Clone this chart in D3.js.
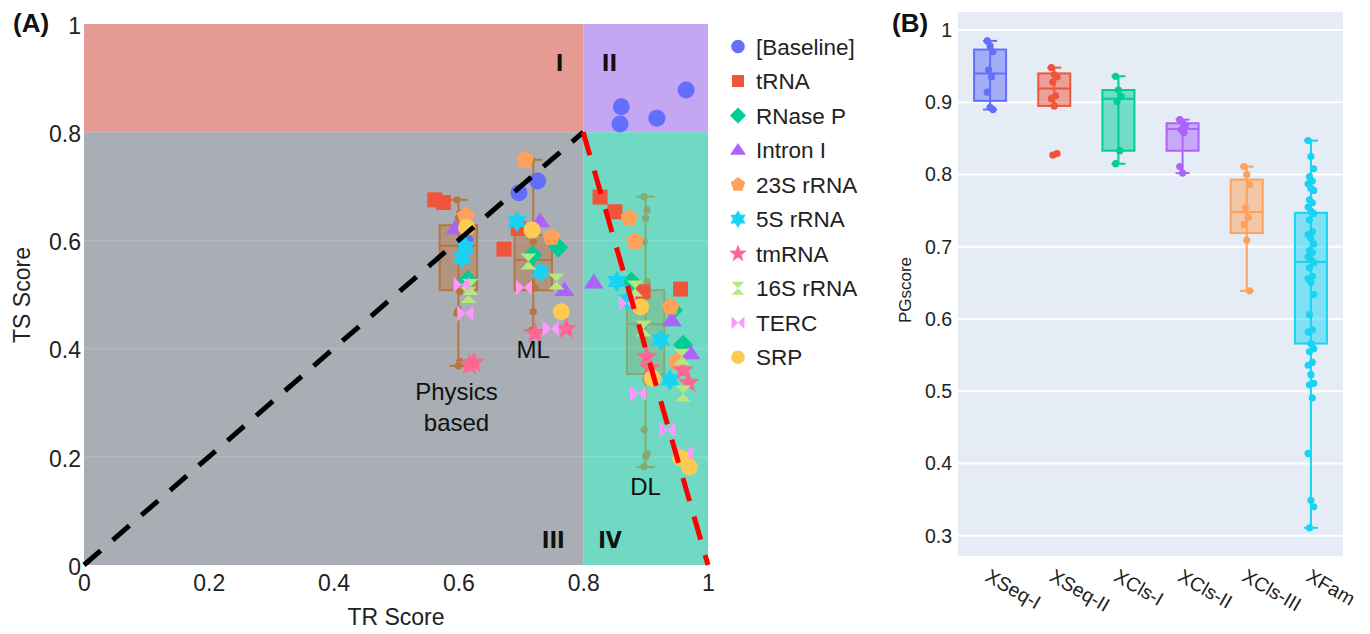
<!DOCTYPE html>
<html>
<head>
<meta charset="utf-8">
<script src="https://d3js.org/d3.v7.min.js"></script>
<style>
  body { margin: 0; background: #fff; }
  svg { font-family: "Liberation Sans", Arial, sans-serif; }
</style>
</head>
<body>
<script>
// ---------- panel A data ----------
const families = ["[Baseline]", "tRNA", "RNase P", "Intron I", "23S rRNA", "5S rRNA", "tmRNA", "16S rRNA", "TERC", "SRP"];
const famColors = ["#636efa", "#ef553b", "#00cc96", "#ab63fa", "#ffa15a", "#19d3f3", "#ff6692", "#b6e880", "#ff97ff", "#fecb52"];
const famShapes = ["circle", "square", "diamond", "triangle", "pentagon", "hexagram", "star", "hourglass", "bowtie", "circle"];

// [TR score, TS score]
const ptsBaseline = [[0.861, 0.847], [0.859, 0.815], [0.918, 0.826], [0.965, 0.878], [0.697, 0.688], [0.727, 0.710], [0.611, 0.598]];
const ptsTRNA = [[0.562, 0.675], [0.576, 0.670], [0.696, 0.622], [0.673, 0.584], [0.827, 0.680], [0.851, 0.653], [0.896, 0.505], [0.956, 0.510]];
const ptsRNaseP = [[0.615, 0.527], [0.760, 0.587], [0.719, 0.573], [0.877, 0.524], [0.944, 0.471], [0.960, 0.407]];
const ptsIntron = [[0.595, 0.622], [0.731, 0.635], [0.770, 0.508], [0.817, 0.522], [0.942, 0.452], [0.972, 0.391]];
const pts23S = [[0.612, 0.645], [0.707, 0.749], [0.749, 0.606], [0.874, 0.641], [0.883, 0.598], [0.940, 0.477], [0.950, 0.376]];
const pts5S = [[0.611, 0.588], [0.606, 0.567], [0.694, 0.635], [0.731, 0.542], [0.854, 0.524], [0.871, 0.490], [0.924, 0.416], [0.939, 0.342]];
const ptsTmRNA = [[0.625, 0.374], [0.618, 0.370], [0.723, 0.428], [0.773, 0.437], [0.902, 0.385], [0.907, 0.364], [0.960, 0.360], [0.969, 0.337]];
const pts16S = [[0.619, 0.514], [0.616, 0.499], [0.712, 0.561], [0.757, 0.524], [0.883, 0.511], [0.897, 0.437], [0.958, 0.385], [0.960, 0.317]];
const ptsTERC = [[0.605, 0.518], [0.611, 0.465], [0.705, 0.513], [0.748, 0.437], [0.870, 0.484], [0.888, 0.317], [0.935, 0.250], [0.963, 0.206]];
const ptsSRP = [[0.613, 0.624], [0.718, 0.619], [0.765, 0.468], [0.892, 0.477], [0.911, 0.345], [0.956, 0.198], [0.970, 0.181]];
const famPoints = [ptsBaseline, ptsTRNA, ptsRNaseP, ptsIntron, pts23S, pts5S, ptsTmRNA, pts16S, ptsTERC, ptsSRP];

// method boxes in panel A: x position, [low, q1, median, q3, high], member dots
const methodNames = ["Physics based", "ML", "DL"];
const methodX = [0.60, 0.72, 0.90];
const methodStats = [
  [0.368, 0.508, 0.590, 0.628, 0.675],
  [0.434, 0.508, 0.564, 0.610, 0.749],
  [0.181, 0.353, 0.445, 0.508, 0.681]
];
const methodDots = [
  [0.675, 0.651, 0.641, 0.518, 0.505, 0.471, 0.465, 0.376, 0.368],
  [0.749, 0.616, 0.598, 0.521, 0.512, 0.468, 0.434],
  [0.681, 0.656, 0.641, 0.598, 0.524, 0.342, 0.250, 0.206, 0.200, 0.182]
];
const ticksA = [0, 0.2, 0.4, 0.6, 0.8, 1];

// ---------- panel B data ----------
const splits = ["XSeq-I", "XSeq-II", "XCls-I", "XCls-II", "XCls-III", "XFam"];
const splitColors = ["#636efa", "#ef553b", "#00cc96", "#ab63fa", "#ffa15a", "#19d3f3"];
const splitStats = [
  [0.890, 0.902, 0.940, 0.973, 0.985],
  [0.895, 0.895, 0.919, 0.940, 0.948],
  [0.815, 0.833, 0.905, 0.917, 0.936],
  [0.802, 0.833, 0.863, 0.871, 0.876],
  [0.639, 0.719, 0.748, 0.793, 0.811],
  [0.311, 0.566, 0.679, 0.747, 0.847]
];
const splitPoints = [
  [0.985, 0.978, 0.970, 0.945, 0.935, 0.914, 0.893, 0.890],
  [0.948, 0.938, 0.935, 0.928, 0.909, 0.905, 0.895, 0.829, 0.827],
  [0.936, 0.917, 0.908, 0.901, 0.833, 0.815],
  [0.876, 0.872, 0.868, 0.862, 0.858, 0.811, 0.802],
  [0.811, 0.800, 0.786, 0.754, 0.741, 0.731, 0.709, 0.639],
  [0.847, 0.825, 0.808, 0.797, 0.791, 0.787, 0.781, 0.778, 0.765, 0.761, 0.755, 0.749, 0.746,
   0.737, 0.721, 0.717, 0.712, 0.704, 0.695, 0.692, 0.686, 0.682, 0.678, 0.671, 0.659, 0.656,
   0.651, 0.634, 0.606, 0.585, 0.582, 0.566, 0.559, 0.555, 0.540, 0.536, 0.523, 0.511, 0.509,
   0.491, 0.414, 0.349, 0.340, 0.311]
];
const ticksB = [0.3, 0.4, 0.5, 0.6, 0.7, 0.8, 0.9, 1];

// ---------- svg ----------
const svg = d3.select("body").append("svg").attr("width", 1370).attr("height", 634);

function shapePath(shape, r) {
  const poly = (n, r1, r2, rot) => {
    const p = [];
    for (let i = 0; i < n * 2; i++) {
      const rr = i % 2 === 0 ? r1 : r2;
      const a = rot + i * Math.PI / n;
      p.push([rr * Math.sin(a), -rr * Math.cos(a)]);
    }
    return "M" + p.map(q => q[0].toFixed(2) + "," + q[1].toFixed(2)).join("L") + "Z";
  };
  switch (shape) {
    case "circle": return d3.symbol(d3.symbolCircle, Math.PI * r * r)();
    case "square": return `M${-r},${-r}H${r}V${r}H${-r}Z`;
    case "diamond": return `M0,${-r * 1.25}L${r * 1.25},0L0,${r * 1.25}L${-r * 1.25},0Z`;
    case "triangle": return `M0,${-r}L${r * 1.1},${r * 0.65}L${-r * 1.1},${r * 0.65}Z`;
    case "pentagon": return poly(5, r * 1.05, r * 1.05 * Math.cos(Math.PI / 5), 0);
    case "hexagram": return poly(6, r * 1.3, r * 0.75, 0);
    case "star": return poly(5, r * 1.45, r * 0.6, 0);
    case "hourglass": return `M${-r},${-r}H${r}L${-r},${r}H${r}Z`;
    case "bowtie": return `M${-r},${-r}V${r}L${r},${-r}V${r}Z`;
  }
}

// ================= PANEL A =================
const xA = d3.scaleLinear().domain([0, 1]).range([84, 708]);
const yA = d3.scaleLinear().domain([0, 1]).range([565, 24]);
const gA = svg.append("g");

const quads = [
  { x0: 0, x1: 0.8, y0: 0.8, y1: 1, c: "#e69a94" },
  { x0: 0.8, x1: 1, y0: 0.8, y1: 1, c: "#c4a6f3" },
  { x0: 0, x1: 0.8, y0: 0, y1: 0.8, c: "#a9adb4" },
  { x0: 0.8, x1: 1, y0: 0, y1: 0.8, c: "#6fd9c3" }
];
gA.selectAll("rect.quad").data(quads).enter().append("rect")
  .attr("x", d => xA(d.x0)).attr("y", d => yA(d.y1))
  .attr("width", d => xA(d.x1) - xA(d.x0)).attr("height", d => yA(d.y0) - yA(d.y1))
  .attr("fill", d => d.c);

gA.selectAll("line.grid").data([0.2, 0.4, 0.6]).enter().append("line")
  .attr("x1", xA(0)).attr("x2", xA(1)).attr("y1", d => yA(d)).attr("y2", d => yA(d))
  .attr("stroke", "#fff").attr("stroke-opacity", 0.15).attr("stroke-width", 1.5);

// quadrant labels
const quadLabels = [["I", 0.762, 0.913], ["II", 0.842, 0.913], ["III", 0.752, 0.031], ["IV", 0.843, 0.031]];
gA.selectAll("text.ql").data(quadLabels).enter().append("text")
  .attr("x", d => xA(d[1])).attr("y", d => yA(d[2]))
  .attr("text-anchor", "middle").attr("font-size", 23).attr("font-weight", "bold")
  .attr("font-family", "'DejaVu Sans Condensed', 'Liberation Sans', sans-serif")
  .attr("fill", "#111").text(d => d[0]);

// method boxes
const boxW = 0.06;
const boxStroke = ["#b8763f", "#b8763f", "#86aa70"];
const boxFill = ["rgba(184,118,63,0.45)", "rgba(184,118,63,0.45)", "rgba(134,170,112,0.4)"];
methodStats.forEach((s, i) => {
  const cx = xA(methodX[i]);
  const w = xA(boxW) - xA(0);
  const g = gA.append("g");
  g.append("line").attr("x1", cx).attr("x2", cx).attr("y1", yA(s[0])).attr("y2", yA(s[4]))
    .attr("stroke", boxStroke[i]).attr("stroke-width", 2);
  [s[0], s[4]].forEach(v => g.append("line").attr("x1", cx - 9).attr("x2", cx + 9)
    .attr("y1", yA(v)).attr("y2", yA(v)).attr("stroke", boxStroke[i]).attr("stroke-width", 2));
  g.append("rect").attr("x", cx - w / 2).attr("y", yA(s[3])).attr("width", w)
    .attr("height", yA(s[1]) - yA(s[3])).attr("fill", boxFill[i])
    .attr("stroke", boxStroke[i]).attr("stroke-width", 2);
  g.append("line").attr("x1", cx - w / 2).attr("x2", cx + w / 2).attr("y1", yA(s[2])).attr("y2", yA(s[2]))
    .attr("stroke", boxStroke[i]).attr("stroke-width", 2);
  g.selectAll("circle").data(methodDots[i]).enter().append("circle")
    .attr("cx", (d, j) => cx + ((j * 5) % 3 - 1) * 1.5).attr("cy", d => yA(d))
    .attr("r", 3.6).attr("fill", boxStroke[i]);
});

// family markers
const markerR = { circle: 8.5, square: 7.5, diamond: 8, triangle: 9, pentagon: 9, hexagram: 8.5, star: 8, hourglass: 8, bowtie: 8 };
famPoints.forEach((pts, i) => {
  gA.append("g").selectAll("path").data(pts).enter().append("path")
    .attr("transform", d => `translate(${xA(d[0])},${yA(d[1])})`)
    .attr("d", shapePath(famShapes[i], markerR[famShapes[i]]))
    .attr("fill", famColors[i]);
});

// dashed reference lines
gA.append("line").attr("x1", xA(0)).attr("y1", yA(0)).attr("x2", xA(0.8)).attr("y2", yA(0.8))
  .attr("stroke", "#000").attr("stroke-width", 5).attr("stroke-dasharray", "22,16");
gA.append("line").attr("x1", xA(0.8)).attr("y1", yA(0.8)).attr("x2", xA(1)).attr("y2", yA(0))
  .attr("stroke", "#ff0000").attr("stroke-width", 5).attr("stroke-dasharray", "24,16");

// method labels
const methodLabelPos = [[0.597, 0.305], [0.72, 0.383], [0.90, 0.13]];
gA.append("text").attr("x", xA(methodLabelPos[0][0])).attr("y", yA(methodLabelPos[0][1]))
  .attr("text-anchor", "middle").attr("font-size", 24).attr("fill", "#111")
  .selectAll("tspan").data(["Physics", "based"]).enter().append("tspan")
  .attr("x", xA(methodLabelPos[0][0])).attr("dy", (d, i) => i ? 31.5 : 0).text(d => d);
[1, 2].forEach(i => gA.append("text").attr("x", xA(methodLabelPos[i][0])).attr("y", yA(methodLabelPos[i][1]))
  .attr("text-anchor", "middle").attr("font-size", 24).attr("fill", "#111").text(methodNames[i]));

// axes
const axLA = gA.append("g").attr("transform", `translate(${xA(0)},0)`)
  .call(d3.axisLeft(yA).tickValues(ticksA).tickSize(0).tickPadding(3).tickFormat(d3.format("~g")));
const axBA = gA.append("g").attr("transform", `translate(0,${yA(0)})`)
  .call(d3.axisBottom(xA).tickValues(ticksA).tickSize(0).tickPadding(10).tickFormat(d3.format("~g")));
[axLA, axBA].forEach(a => {
  a.select(".domain").remove();
  a.selectAll("text").attr("font-size", 23).attr("fill", "#222").attr("font-family", "Liberation Sans, Arial, sans-serif");
});
axLA.selectAll("text").attr("dy", "0.4em");

gA.append("text").attr("x", 396).attr("y", 625).attr("text-anchor", "middle")
  .attr("font-size", 23).attr("fill", "#222").text("TR Score");
gA.append("text").attr("transform", "translate(30,295) rotate(-90)").attr("text-anchor", "middle")
  .attr("font-size", 23).attr("fill", "#222").text("TS Score");
gA.append("text").attr("x", 13).attr("y", 32).attr("font-size", 26).attr("font-weight", "bold")
  .attr("fill", "#111").text("(A)");

// legend
const legY = d3.scaleLinear().domain([0, 9]).range([46.5, 357.3]);
const leg = gA.append("g");
families.forEach((f, i) => {
  const sc = famShapes[i];
  leg.append("path").attr("transform", `translate(738,${legY(i)})`)
    .attr("d", shapePath(sc, markerR[sc] * 0.8)).attr("fill", famColors[i]);
  leg.append("text").attr("x", 756).attr("y", legY(i)).attr("dy", "0.36em")
    .attr("font-size", 22.5).attr("fill", "#222").text(f);
});

// ================= PANEL B =================
const xB = d3.scaleBand().domain(splits).range([958, 1343]);
const yB = d3.scaleLinear().domain([0.272, 1.025]).range([556, 12]);
const gB = svg.append("g");

gB.append("rect").attr("x", 958).attr("y", 12).attr("width", 385).attr("height", 544).attr("fill", "#e5ecf6");
gB.selectAll("line.grid").data(ticksB).enter().append("line")
  .attr("x1", 958).attr("x2", 1343).attr("y1", d => yB(d)).attr("y2", d => yB(d))
  .attr("stroke", "#fff").attr("stroke-width", 2);

splitStats.forEach((s, i) => {
  const cx = xB(splits[i]) + xB.bandwidth() / 2;
  const w = 32;
  const c = splitColors[i];
  const g = gB.append("g");
  g.append("line").attr("x1", cx).attr("x2", cx).attr("y1", yB(s[0])).attr("y2", yB(s[4]))
    .attr("stroke", c).attr("stroke-width", 2);
  [s[0], s[4]].forEach(v => g.append("line").attr("x1", cx - 7).attr("x2", cx + 7)
    .attr("y1", yB(v)).attr("y2", yB(v)).attr("stroke", c).attr("stroke-width", 2));
  g.append("rect").attr("x", cx - w / 2).attr("y", yB(s[3])).attr("width", w)
    .attr("height", yB(s[1]) - yB(s[3])).attr("fill", c).attr("fill-opacity", 0.5)
    .attr("stroke", c).attr("stroke-width", 2);
  g.append("line").attr("x1", cx - w / 2).attr("x2", cx + w / 2).attr("y1", yB(s[2])).attr("y2", yB(s[2]))
    .attr("stroke", c).attr("stroke-width", 2);
  g.selectAll("circle").data(splitPoints[i]).enter().append("circle")
    .attr("cx", (d, j) => cx + ((j * 7) % 5 - 2) * 1.4).attr("cy", d => yB(d))
    .attr("r", 3.6).attr("fill", c);
});

const axLB = gB.append("g").attr("transform", "translate(958,0)")
  .call(d3.axisLeft(yB).tickValues(ticksB).tickSize(0).tickPadding(6).tickFormat(d3.format("~g")));
axLB.select(".domain").remove();
axLB.selectAll("text").attr("font-size", 19.5).attr("fill", "#222")
  .attr("font-family", "Liberation Sans, Arial, sans-serif");

gB.selectAll("text.xl").data(splits).enter().append("text")
  .attr("transform", d => `translate(${xB(d) + xB.bandwidth() / 2 - 6},580) rotate(30)`)
  .attr("font-size", 19.5).attr("fill", "#222").text(d => d);

gB.append("text").attr("transform", "translate(911,290) rotate(-90)").attr("text-anchor", "middle")
  .attr("font-size", 17).attr("fill", "#222").text("PGscore");
gB.append("text").attr("x", 892).attr("y", 32).attr("font-size", 26).attr("font-weight", "bold")
  .attr("fill", "#111").text("(B)");
</script>
</body>
</html>
